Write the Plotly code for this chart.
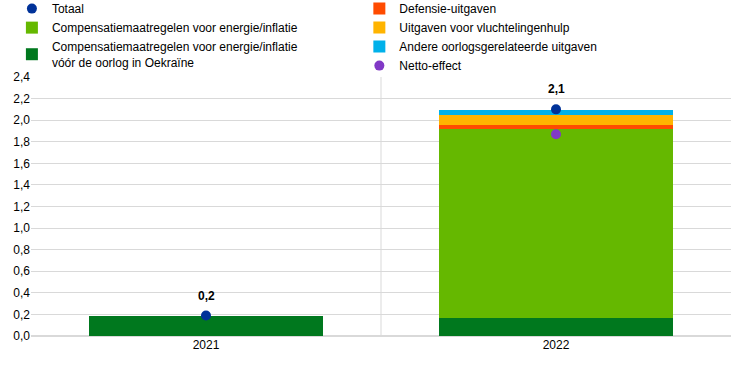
import plotly.graph_objects as go

years = ["2021", "2022"]
pre_war = [0.19, 0.17]
energy = [0.0, 1.75]
defence = [0.0, 0.035]
refugees = [0.0, 0.09]
other_war = [0.0, 0.05]
total = [0.19, 2.1]
net_effect = [None, 1.87]

names = {
    "pre": "Compensatiemaatregelen voor energie/inflatie<br>vóór de oorlog in Oekraïne",
    "energy": "Compensatiemaatregelen voor energie/inflatie",
    "def": "Defensie-uitgaven",
    "ref": "Uitgaven voor vluchtelingenhulp",
    "oth": "Andere oorlogsgerelateerde uitgaven",
    "tot": "Totaal",
    "net": "Netto-effect",
}

fig = go.Figure()
bars = [
    (pre_war, names["pre"], "#00781E", "legend", 3),
    (energy, names["energy"], "#65B800", "legend", 2),
    (defence, names["def"], "#FF4B00", "legend2", 1),
    (refugees, names["ref"], "#FFB400", "legend2", 2),
    (other_war, names["oth"], "#00B1EA", "legend2", 3),
]
for vals, nm, col, lg, rank in bars:
    fig.add_trace(go.Bar(x=years, y=vals, name=nm, marker=dict(color=col, line=dict(width=0)),
                         legend=lg, legendrank=rank))

fig.add_trace(go.Scatter(x=years, y=total, name=names["tot"], mode="markers",
                         marker=dict(color="#003299", size=10), legend="legend", legendrank=1))
fig.add_trace(go.Scatter(x=years, y=net_effect, name=names["net"], mode="markers",
                         marker=dict(color="#8139C6", size=10), legend="legend2", legendrank=4))

for i, yv in enumerate(total):
    fig.add_annotation(x=i, y=yv, text="<b>" + f"{yv:.1f}".replace(".", ",") + "</b>",
                       showarrow=False, yshift=20, font=dict(size=12, color="black"))

fig.add_shape(type="line", xref="x", yref="paper", x0=0.5, x1=0.5, y0=0, y1=1,
              line=dict(color="#D9D9D9", width=1))

fig.update_layout(
    barmode="stack",
    bargap=0.331,
    width=744, height=365,
    margin=dict(l=31, r=13, t=77, b=29, autoexpand=False),
    paper_bgcolor="white", plot_bgcolor="white",
    font=dict(family="Liberation Sans, Arial", size=12, color="black"),
    separators=",.",
    legend=dict(x=0.016, y=1.32, xref="container", yref="paper", xanchor="left", yanchor="top",
                font=dict(size=12), traceorder="normal", itemwidth=30, bgcolor="rgba(0,0,0,0)",
                tracegroupgap=0),
    legend2=dict(x=0.483, y=1.32, xref="container", yref="paper", xanchor="left", yanchor="top",
                 font=dict(size=12), traceorder="normal", itemwidth=30, bgcolor="rgba(0,0,0,0)",
                 tracegroupgap=0),
    xaxis=dict(type="category", range=[-0.5, 1.5], showgrid=False, ticks="", tickfont=dict(size=12)),
    yaxis=dict(range=[0, 2.4], dtick=0.2, tickformat=".1f", showgrid=True, gridcolor="#D9D9D9",
               zeroline=True, zerolinecolor="#D9D9D9", ticks="", tickfont=dict(size=12)),
)

fig.write_html("out.html", config={"displayModeBar": False},
               post_script="document.body.style.margin='0';")
